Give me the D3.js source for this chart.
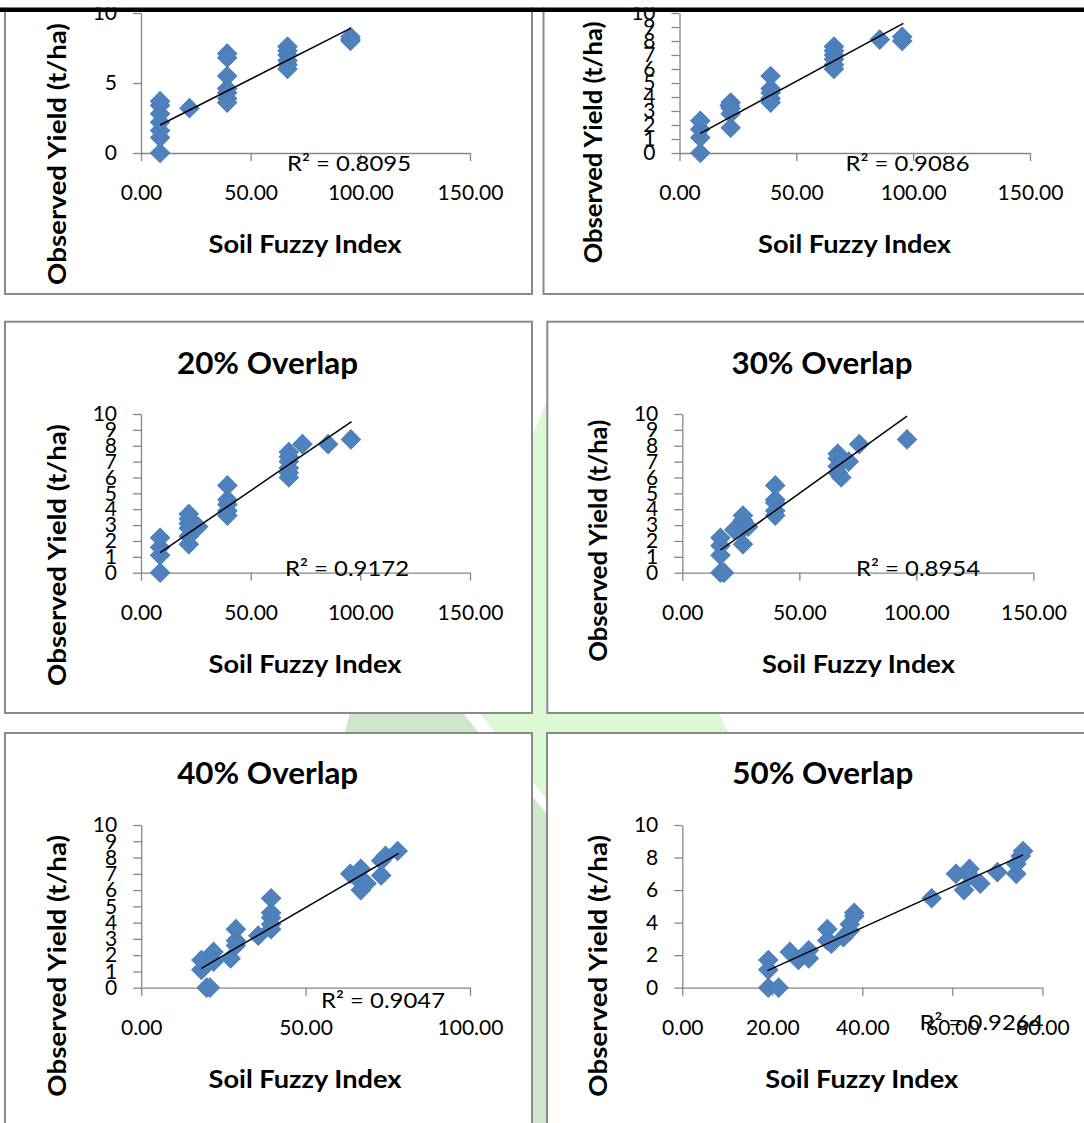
<!DOCTYPE html>
<html>
<head>
<meta charset="utf-8">
<script src="https://d3js.org/d3.v7.min.js"></script>
<style>
  body { margin: 0; background: #fff; }
  svg { display: block; font-family: Lato, "Open Sans", sans-serif; }
  .axis path, .axis line { stroke: #868686; stroke-width: 1.3px; }
  .axis text { font-size: 21px; fill: #000; font-family: Lato, sans-serif; }
  .ttl { font-weight: bold; fill: #000; }
</style>
</head>
<body>
<svg width="1084" height="1123"></svg>
<script>
// ---- data ----
const titles = [null, null, "20% Overlap", "30% Overlap", "40% Overlap", "50% Overlap"];
const r2Labels = ["R² = 0.8095", "R² = 0.9086", "R² = 0.9172", "R² = 0.8954", "R² = 0.9047", "R² = 0.9264"];
const xMax = [150, 150, 150, 150, 100, 80];
const xStep = [50, 50, 50, 50, 50, 20];
const yStep = [5, 1, 1, 1, 1, 2];

const sfi1 = [8.7, 8.7, 8.7, 8.7, 8.7, 8.7, 8.7, 22.1, 39.3, 39.3, 39.3, 39.3, 39.3, 39.3, 39.3, 66.8, 66.8, 66.8, 66.8, 66.8, 66.8, 95.5, 95.5, 95.5];
const obs1 = [0, 1.1, 1.6, 2.2, 2.8, 3.4, 3.7, 3.2, 7.1, 6.8, 5.5, 4.6, 4.3, 3.9, 3.6, 7.6, 7.3, 7.0, 6.6, 6.3, 6.0, 8.1, 8.3, 8.0];

const sfi2 = [8.9, 8.9, 8.9, 8.9, 21.9, 21.9, 21.9, 21.9, 21.5, 39, 39, 39, 39, 39, 66.1, 66.1, 66.1, 66.1, 66.1, 66.1, 85.7, 95.3, 95.3];
const obs2 = [0, 1.1, 1.7, 2.3, 1.8, 2.8, 3.2, 3.6, 3.4, 5.5, 4.6, 4.3, 3.9, 3.6, 7.6, 7.3, 7.0, 6.7, 6.3, 6.0, 8.1, 8.0, 8.3];

const sfi3 = [8.7, 8.7, 8.7, 8.7, 21.8, 21.8, 21.8, 21.8, 21.8, 21.8, 26, 39.4, 39.4, 39.4, 39.4, 39.4, 67.4, 67.4, 67.4, 67.4, 67.4, 67.4, 73.6, 85.3, 95.7];
const obs3 = [0, 1.1, 1.6, 2.2, 1.8, 2.3, 2.8, 3.1, 3.4, 3.7, 2.9, 5.5, 4.6, 4.3, 3.9, 3.6, 7.6, 7.3, 7.0, 6.6, 6.3, 6.0, 8.1, 8.1, 8.4];

const sfi4 = [16.3, 17.8, 16.3, 16.3, 16.3, 25.9, 22.2, 25.9, 25.9, 25.9, 28.1, 39.7, 39.7, 39.7, 39.7, 39.7, 66.4, 66.4, 66.4, 66.4, 67.9, 71.1, 75.6, 96];
const obs4 = [0, 0, 1.1, 1.7, 2.2, 1.8, 2.7, 2.8, 3.3, 3.6, 2.9, 5.5, 4.6, 4.4, 3.9, 3.6, 7.5, 7.2, 6.7, 6.3, 6.0, 7.0, 8.1, 8.4];

const sfi5 = [18.3, 18.3, 19.9, 20.9, 22, 22, 27.2, 28.8, 28.8, 28.8, 35.6, 39.5, 39.5, 39.5, 39.5, 39.5, 63.6, 66.8, 66.8, 66.8, 68.5, 73, 73, 74.3, 78];
const obs5 = [1.1, 1.7, 0, 0, 2.2, 1.6, 1.8, 3.6, 2.9, 2.6, 3.2, 5.5, 4.6, 4.3, 3.9, 3.6, 7.0, 7.3, 6.5, 6.0, 6.4, 6.9, 7.8, 8.1, 8.4];

const sfi6 = [19.1, 19.1, 19.1, 21.4, 23.9, 25.8, 28.1, 28.1, 32.2, 32.2, 33.1, 35.8, 37.2, 37.2, 38.2, 38.2, 55.4, 60.8, 62.6, 63.8, 63.8, 66.2, 70, 74.2, 74.2, 75.2, 75.7];
const obs6 = [1.7, 1.1, 0, 0, 2.2, 1.7, 2.3, 1.8, 3.6, 2.9, 2.7, 3.1, 3.5, 3.9, 4.6, 4.4, 5.5, 7.0, 6.0, 7.3, 6.9, 6.4, 7.1, 7.0, 7.6, 8.1, 8.4];

// trendline end points [sfi, yield]
const trendFrom = [[8.7, 2.0], [8.9, 1.4], [8.7, 1.26], [16.3, 1.43], [18.3, 1.19], [18.9, 1.05]];
const trendTo = [[95.5, 8.9], [95.8, 9.26], [96, 9.52], [96, 9.87], [78.3, 8.26], [75.7, 8.16]];

const sfiAll = [sfi1, sfi2, sfi3, sfi4, sfi5, sfi6];
const obsAll = [obs1, obs2, obs3, obs4, obs5, obs6];

// ---- layout (pixels) ----
const layout = [
  {box: [5, -98, 527, 392], plot: [141, 13, 470, 153], yl: [58, 154, 262], xl: [305, 245], tt: null, r2: [349, 163]},
  {box: [543.5, -98, 560, 392], plot: [679.5, 13, 1030, 153], yl: [594, 142.5, 242], xl: [854.5, 245], tt: null, r2: [907.5, 163]},
  {box: [5, 321.7, 527, 391.3], plot: [141, 414, 470, 572.7], yl: [58, 555, 262], xl: [305, 665], tt: [267.5, 363], r2: [347, 568]},
  {box: [547.3, 321.7, 560, 391.3], plot: [682.3, 414, 1033.4, 572.7], yl: [599, 540.8, 242], xl: [858.4, 665], tt: [822, 363], r2: [918, 568]},
  {box: [5, 733, 527, 420], plot: [141.2, 825, 470, 987.7], yl: [58, 965.8, 262], xl: [305, 1080], tt: [267.7, 773], r2: [383, 1000]},
  {box: [547, 733, 560, 420], plot: [682.3, 825, 1042.4, 987.7], yl: [599, 965.8, 262], xl: [861.8, 1080], tt: [822.8, 773], r2: [981.5, 1022]}
];

const svg = d3.select("svg");

// faint green watermark behind the panels
const wm = svg.append("g");
wm.append("polygon")
  .attr("points", [[552, 388], [735, 745], [600, 869], [440, 661]].join(" "))
  .attr("fill", "#dbf9d2");
wm.append("polygon")
  .attr("points", [[368, 640], [402, 640], [804, 1123], [247, 1123]].join(" "))
  .attr("fill", "#cfe8cb");

const diamond = d3.symbol(d3.symbolSquare, 185);

layout.forEach(function(L, i) {
  const g = svg.append("g");

  g.append("rect")
    .attr("x", L.box[0]).attr("y", L.box[1])
    .attr("width", L.box[2]).attr("height", L.box[3])
    .attr("fill", "#fff")
    .attr("stroke", "#8a8a8a")
    .attr("stroke-width", 2);

  const x = d3.scaleLinear().domain([0, xMax[i]]).range([L.plot[0], L.plot[2]]);
  const y = d3.scaleLinear().domain([0, 10]).range([L.plot[3], L.plot[1]]);

  g.append("g")
    .attr("class", "axis")
    .attr("transform", "translate(0," + L.plot[3] + ")")
    .call(d3.axisBottom(x)
      .tickValues(d3.range(0, xMax[i] + 0.1, xStep[i]))
      .tickFormat(d3.format(".2f"))
      .tickSize(8).tickSizeOuter(0).tickPadding(24));

  g.append("g")
    .attr("class", "axis")
    .attr("transform", "translate(" + L.plot[0] + ",0)")
    .call(d3.axisLeft(y)
      .tickValues(d3.range(0, 10.1, yStep[i]))
      .tickFormat(d3.format("d"))
      .tickSize(8).tickSizeOuter(0).tickPadding(16));

  // points
  const pts = sfiAll[i].map(function(v, k) { return {sfi: v, obs: obsAll[i][k]}; });
  g.selectAll(".pt")
    .data(pts)
    .enter().append("path")
    .attr("class", "pt")
    .attr("d", diamond)
    .attr("transform", function(d) { return "translate(" + x(d.sfi) + "," + y(d.obs) + ") rotate(45)"; })
    .attr("fill", "#4f81bd")
    .attr("stroke", "#4a7ebb")
    .attr("stroke-width", 1);

  // linear trendline
  g.append("line")
    .attr("x1", x(trendFrom[i][0])).attr("y1", y(trendFrom[i][1]))
    .attr("x2", x(trendTo[i][0])).attr("y2", y(trendTo[i][1]))
    .attr("stroke", "#000")
    .attr("stroke-width", 1.5);

  g.append("text")
    .attr("x", L.r2[0]).attr("y", L.r2[1])
    .attr("dy", "0.35em")
    .attr("text-anchor", "middle")
    .attr("textLength", 124)
    .attr("lengthAdjust", "spacingAndGlyphs")
    .style("font-size", "22px")
    .text(r2Labels[i]);

  g.append("text")
    .attr("class", "ttl")
    .attr("x", L.xl[0]).attr("y", L.xl[1])
    .attr("dy", "0.35em")
    .attr("text-anchor", "middle")
    .attr("textLength", 193)
    .attr("lengthAdjust", "spacingAndGlyphs")
    .style("font-size", "24px")
    .text("Soil Fuzzy Index");

  g.append("text")
    .attr("class", "ttl")
    .attr("transform", "translate(" + L.yl[0] + "," + L.yl[1] + ") rotate(-90)")
    .attr("dy", "0.35em")
    .attr("text-anchor", "middle")
    .attr("textLength", L.yl[2])
    .attr("lengthAdjust", "spacingAndGlyphs")
    .style("font-size", "24px")
    .text("Observed Yield (t/ha)");

  if (titles[i]) {
    g.append("text")
      .attr("class", "ttl")
      .attr("x", L.tt[0]).attr("y", L.tt[1])
      .attr("dy", "0.35em")
      .attr("text-anchor", "middle")
      .attr("textLength", 181)
      .attr("lengthAdjust", "spacingAndGlyphs")
      .style("font-size", "30px")
      .text(titles[i]);
  }
});

// page header rule (the figure is cut off above it)
svg.append("rect").attr("x", 0).attr("y", 0).attr("width", 1084).attr("height", 7.5).attr("fill", "#fff");
svg.append("rect").attr("x", 0).attr("y", 7.5).attr("width", 1084).attr("height", 4.5).attr("fill", "#000");
</script>
</body>
</html>
